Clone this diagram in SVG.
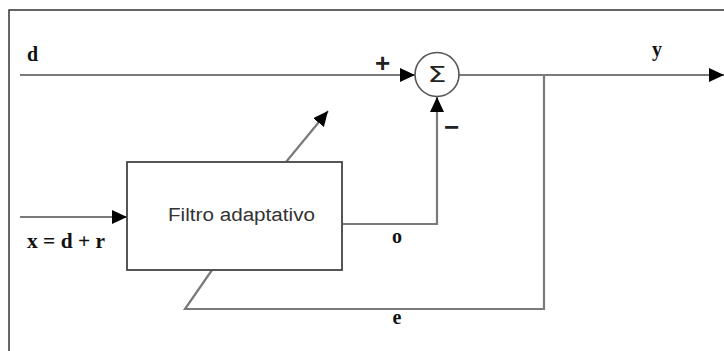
<svg xmlns="http://www.w3.org/2000/svg" width="724" height="351" viewBox="0 0 724 351">
<style>
.frame{fill:none;stroke:#333;stroke-width:1.5}
.box{fill:#fff;stroke:#444;stroke-width:1.8}
.sum{fill:#fff;stroke:#555;stroke-width:1.6}
.wire{fill:none;stroke:#7a7a7a;stroke-width:2.2}
.lbl{font-family:"Liberation Serif","Times New Roman",serif;font-weight:bold;font-size:20px;fill:#111}
.sign{font-family:"Liberation Sans",Arial,sans-serif;font-weight:bold;font-size:26px;fill:#222}
.name{font-family:"Liberation Sans",Arial,sans-serif;font-size:18px;fill:#333}
</style>
<defs>
<marker id="ah" markerUnits="userSpaceOnUse" markerWidth="15" markerHeight="14" viewBox="0 0 15 14" refX="15" refY="7" orient="auto">
<path d="M0,0 L15,7 L0,14 Z" fill="#000"/>
</marker>
</defs>
<rect class="frame" x="9" y="10" width="730" height="360"/>
<g id="connectors">
<line class="wire" x1="20" y1="75" x2="415" y2="75" marker-end="url(#ah)"/>
<line class="wire" x1="459" y1="75" x2="724" y2="75" marker-end="url(#ah)"/>
<line class="wire" x1="20" y1="217" x2="127" y2="217" marker-end="url(#ah)"/>
<polyline class="wire" points="342,224 437,224 437,97" marker-end="url(#ah)"/>
<polyline class="wire" points="544,75 544,309 185,309 212,270"/>
<line class="wire" x1="286" y1="162" x2="328" y2="111" marker-end="url(#ah)"/>
</g>
<g id="filtro">
<rect class="box" x="127" y="162" width="215" height="108"/>
<text class="name" x="241.5" y="221" text-anchor="middle" textLength="147" lengthAdjust="spacingAndGlyphs">Filtro adaptativo</text>
</g>
<g id="sumador">
<circle class="sum" cx="437" cy="74.5" r="22"/>
<text x="437" y="82" text-anchor="middle" font-family="DejaVu Sans, sans-serif" font-size="21" fill="#222" textLength="19" lengthAdjust="spacingAndGlyphs">Σ</text>
</g>
<g id="labels">
<text class="lbl" x="27" y="61">d</text>
<text class="lbl" x="27" y="248" textLength="78" lengthAdjust="spacingAndGlyphs">x = d + r</text>
<text class="lbl" x="652" y="56">y</text>
<text class="lbl" x="397" y="243" text-anchor="middle">o</text>
<text class="lbl" x="397" y="324" text-anchor="middle">e</text>
<text class="sign" x="382.5" y="72" text-anchor="middle">+</text>
<text class="sign" x="451.5" y="136" text-anchor="middle">−</text>
</g>
</svg>
